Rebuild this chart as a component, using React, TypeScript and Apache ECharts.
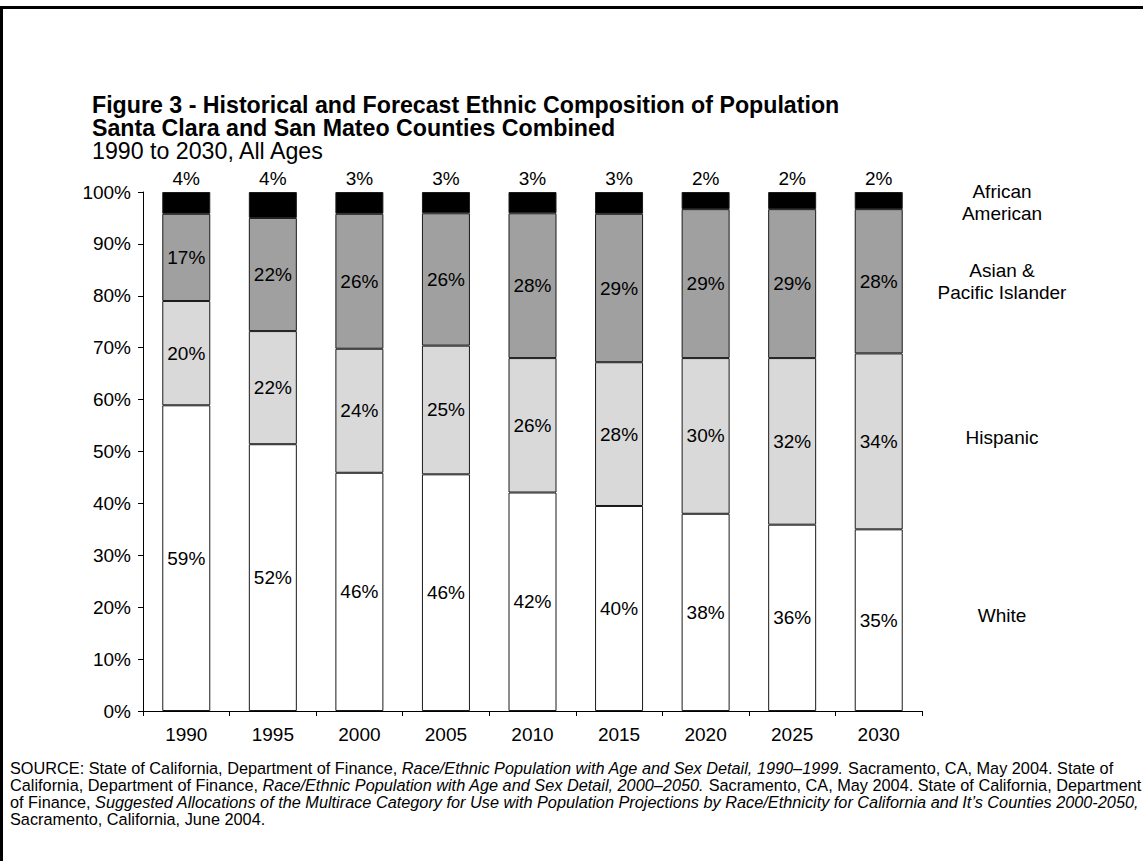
import React, { useEffect, useRef } from "react";
import * as echarts from "echarts";

const years = ["1990", "1995", "2000", "2005", "2010", "2015", "2020", "2025", "2030"];

// Segment heights (percent of total)
const white = [58.9, 51.4, 45.9, 45.6, 42.1, 39.5, 38.0, 35.9, 35.0];
const hispanic = [20.1, 21.8, 23.9, 24.8, 25.9, 27.7, 30.0, 32.1, 33.9];
const asian = [16.8, 21.8, 26.0, 25.5, 27.9, 28.6, 28.7, 28.7, 27.8];
const africanAmerican = [4.2, 5.0, 4.2, 4.1, 4.1, 4.2, 3.3, 3.3, 3.3];

// Printed data labels
const whiteLabels = ["59%", "52%", "46%", "46%", "42%", "40%", "38%", "36%", "35%"];
const hispanicLabels = ["20%", "22%", "24%", "25%", "26%", "28%", "30%", "32%", "34%"];
const asianLabels = ["17%", "22%", "26%", "26%", "28%", "29%", "29%", "29%", "28%"];
const africanAmericanLabels = ["4%", "4%", "3%", "3%", "3%", "3%", "2%", "2%", "2%"];

const seriesNames = ["White", "Hispanic", "Asian & Pacific Islander", "African American"];
const sideLabels = ["White", "Hispanic", "Asian &\nPacific Islander", "African\nAmerican"];
const yTicks = [0, 10, 20, 30, 40, 50, 60, 70, 80, 90, 100];

const titleLines = [
  "Figure 3 - Historical and Forecast Ethnic Composition of Population",
  "Santa Clara and San Mateo Counties Combined",
];
const subtitle = "1990 to 2030, All Ages";

const FONT = "Arial, 'Liberation Sans', Helvetica, sans-serif";

export default function App() {
  const ref = useRef<HTMLDivElement>(null);

  useEffect(() => {
    if (!ref.current) return;
    const chart = echarts.init(ref.current, undefined, { renderer: "svg" });

    const colors = ["#ffffff", "#d9d9d9", "#a0a0a0", "#000000"];
    const data = [white, hispanic, asian, africanAmerican];
    const labels = [whiteLabels, hispanicLabels, asianLabels, africanAmericanLabels];

    const series = data.map((vals, si) => ({
      name: seriesNames[si],
      type: "bar",
      stack: "total",
      barWidth: 48,
      data: vals,
      itemStyle: { color: colors[si], borderColor: "#1a1a1a", borderWidth: 1 },
      label: {
        show: true,
        position: si === 3 ? "top" : "inside",
        distance: 4,
        color: "#000",
        fontFamily: FONT,
        fontSize: 19,
        formatter: (p: any) => labels[si][p.dataIndex],
      },
    }));

    const baseOption: any = {
      animation: false,
      backgroundColor: "#ffffff",
      grid: { left: 143, right: 221, top: 192, bottom: 150, containLabel: false },
      xAxis: {
        type: "category",
        data: years,
        boundaryGap: true,
        axisLine: { show: true, lineStyle: { color: "#000", width: 1 } },
        axisTick: { show: true, length: 5, lineStyle: { color: "#000" } },
        axisLabel: { color: "#000", fontFamily: FONT, fontSize: 19, margin: 14 },
      },
      yAxis: {
        type: "value",
        min: 0,
        max: 100,
        interval: 10,
        axisLine: { show: true, lineStyle: { color: "#000", width: 1 } },
        axisTick: { show: true, length: 5, lineStyle: { color: "#000" } },
        splitLine: { show: false },
        axisLabel: {
          color: "#000",
          fontFamily: FONT,
          fontSize: 19,
          margin: 12,
          formatter: (v: number) => (yTicks.indexOf(v) >= 0 ? v + "%" : ""),
        },
      },
      series,
    };
    chart.setOption(baseOption);

    // Right-hand labels placed at the middle of each segment of the last bar
    const sideOffsets = [-5, -4, 0, 2];
    const last = years.length - 1;
    let cum = 0;
    const side: any[] = [];
    data.forEach((vals, si) => {
      const mid = cum + vals[last] / 2;
      cum += vals[last];
      const y = chart.convertToPixel({ yAxisIndex: 0 }, mid) as number;
      side.push({
        type: "text",
        x: 1002,
        y: y + sideOffsets[si],
        style: {
          text: sideLabels[si],
          fill: "#000",
          font: `19px ${FONT}`,
          textAlign: "center",
          textVerticalAlign: "middle",
          lineHeight: 22,
        },
      });
    });

    const titleRich = {
      b: { fontFamily: FONT, fontSize: 23.2, fontWeight: "bold", lineHeight: 23, fill: "#000", color: "#000" },
      r: { fontFamily: FONT, fontSize: 23.2, lineHeight: 23, fill: "#000", color: "#000" },
    };

    const titles: any[] = [
      { type: "rect", shape: { x: 0, y: 6, width: 1143, height: 3 }, style: { fill: "#000" } },
      { type: "rect", shape: { x: 0, y: 6, width: 3, height: 855 }, style: { fill: "#000" } },
      {
        type: "text",
        x: 92,
        y: 128,
        style: {
          text: `{b|${titleLines[0]}}\n{b|${titleLines[1]}}\n{r|${subtitle}}`,
          rich: titleRich,
          fill: "#000",
          textVerticalAlign: "middle",
        },
      },
    ];

    const srcRich = {
      n: { fontFamily: FONT, fontSize: 16.3, lineHeight: 17, fill: "#000", color: "#000" },
      i: { fontFamily: FONT, fontSize: 16.3, lineHeight: 17, fontStyle: "italic", fill: "#000", color: "#000" },
    };
    const sourceLines = [
      "{n|SOURCE: State of California, Department of Finance, }{i|Race/Ethnic Population with Age and Sex Detail, 1990–1999.}{n| Sacramento, CA, May 2004. State of}",
      "{n|California, Department of Finance, }{i|Race/Ethnic Population with Age and Sex Detail, 2000–2050.}{n| Sacramento, CA, May 2004. State of California, Department}",
      "{n|of Finance, }{i|Suggested Allocations of the Multirace Category for Use with Population Projections by Race/Ethnicity for California and It’s Counties 2000-2050,}",
      "{n|Sacramento, California, June 2004.}",
    ];
    const sources = sourceLines.map((t, i) => ({
      type: "text",
      x: 10,
      y: 768 + i * 17,
      style: { text: t, rich: srcRich, fill: "#000", textVerticalAlign: "middle", font: `16px ${FONT}`, lineHeight: 17 },
    }));

    chart.setOption({ graphic: [...titles, ...side, ...sources] });

    return () => chart.dispose();
  }, []);

  return (
    <div
      ref={ref}
      style={{ position: "fixed", left: 0, top: 0, width: 1143, height: 861, background: "#fff" }}
    />
  );
}
